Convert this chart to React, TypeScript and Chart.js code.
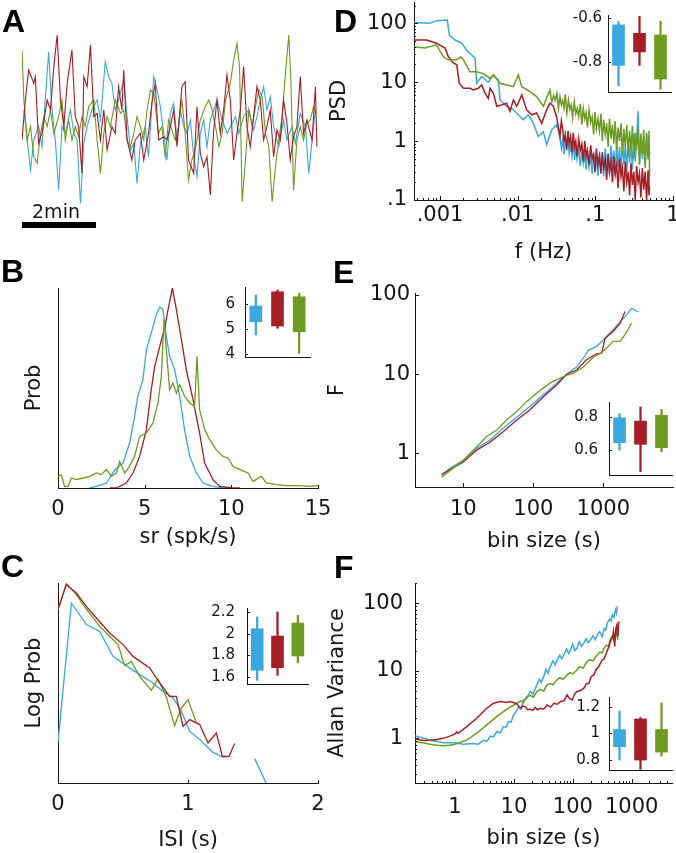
import React, { useEffect, useRef } from 'react';
import { Chart, registerables } from 'chart.js';

Chart.register(...registerables);

const BLUE = '#3aa8de';
const RED = '#a61e26';
const GREEN = '#6e9b22';
const INK = '#161616';
const FONT = '"DejaVu Sans", sans-serif';
const GROUPS = ['blue', 'red', 'green'];
const COLORS = [BLUE, RED, GREEN];

// ---------- Panel A : rate traces (time in min, rate in a.u.)
const aTimeRed = [0.00,0.09,0.18,0.32,0.36,0.45,0.54,0.68,0.77,0.86,0.95,1.04,1.13,1.22,1.35,1.44,1.53,1.62,1.67,1.76,1.85,1.94,2.03,2.12,2.21,2.30,2.43,2.52,2.61,2.70,2.75,2.84,2.97,3.06,3.20,3.29,3.42,3.51,3.60,3.69,3.83,3.92,4.01,4.10,4.19,4.32,4.41,4.50,4.64,4.73,4.82,4.91,5.00,5.09,5.18,5.27,5.36,5.45,5.54,5.63,5.72,5.81,5.90,5.99,6.08,6.17,6.26,6.35,6.44,6.53,6.62,6.71,6.80,6.89,6.98,7.07,7.16,7.25,7.34,7.43,7.52,7.61,7.70,7.84,7.93,7.97];
const aRateRed = [-0.5,0.7,1.6,1.2,1.4,-0.6,-0.3,0.7,0.4,1.7,2.65,0.7,-0.1,1.2,2.2,0.2,-0.1,-1.5,1.4,1.1,2.35,0.2,0.3,-0.5,0.4,-0.8,-0.1,-0.3,1.1,0.4,1.6,-0.5,-1.1,-0.5,-0.3,-1.1,-0.3,0.6,1.2,-0.5,-0.4,-0.5,-0.1,0.4,-0.7,1.1,1.25,-1.1,-1.5,0.5,-0.9,-1.3,-1.0,-2.15,-0.2,0.7,-0.3,0.4,1.45,0.7,-1.1,-0.3,0.4,1.7,-0.1,-0.7,0.2,1.1,0.7,-0.5,-0.1,0.4,-1.0,-0.2,-0.5,0.7,0.0,-1.1,-0.4,-0.1,1.4,-0.3,0.1,-0.5,1.1,-0.7];
const aTimeBlue = [0.05,0.23,0.32,0.45,0.54,0.72,0.81,0.90,0.99,1.08,1.17,1.31,1.40,1.49,1.58,1.67,1.76,1.89,2.03,2.12,2.25,2.34,2.43,2.52,2.61,2.75,2.84,2.93,3.02,3.11,3.20,3.33,3.42,3.56,3.65,3.74,3.83,3.92,4.01,4.10,4.19,4.28,4.37,4.46,4.55,4.64,4.73,4.82,4.91,5.00,5.09,5.18,5.27,5.41,5.54,5.68,5.77,5.86,5.99,6.13,6.26,6.35,6.44,6.53,6.62,6.71,6.80,6.94,7.07,7.16,7.30,7.39,7.52,7.66,7.75,7.84,7.93];
const aRateBlue = [0.4,-1.4,-0.5,-0.1,-0.7,2.15,0.4,-0.5,-2.0,-0.1,-0.3,0.4,-0.3,-0.5,-2.4,-0.6,-0.1,0.4,0.7,0.1,1.85,1.4,1.2,0.4,0.7,1.3,0.2,-0.8,-0.6,-1.8,-0.6,-0.1,-1.0,1.4,1.0,0.5,-0.3,-1.1,0.3,0.6,-0.5,0.4,-0.1,-0.3,0.1,-1.0,-1.6,-0.3,0.1,-0.7,0.1,0.4,0.7,0.1,-0.3,0.0,0.2,-0.3,0.2,0.4,-0.2,0.2,0.7,1.1,0.4,0.8,-0.1,-0.7,0.1,-0.5,-0.1,-0.6,0.3,-0.1,-1.5,-0.5,0.4];
const aTimeGreen = [0.00,0.05,0.14,0.23,0.32,0.41,0.50,0.59,0.68,0.77,0.86,0.99,1.08,1.17,1.26,1.35,1.44,1.53,1.62,1.71,1.80,1.94,2.03,2.12,2.21,2.30,2.39,2.52,2.66,2.75,2.84,2.93,3.02,3.11,3.20,3.29,3.38,3.47,3.56,3.69,3.78,3.87,3.96,4.05,4.14,4.23,4.32,4.41,4.50,4.59,4.68,4.82,4.95,5.05,5.14,5.23,5.32,5.41,5.50,5.63,5.72,5.81,5.88,5.95,6.04,6.13,6.22,6.31,6.40,6.49,6.58,6.67,6.76,6.85,6.94,7.03,7.12,7.21,7.27,7.34,7.43,7.52,7.61,7.70,7.79,7.88,7.95];
const aRateGreen = [2.2,0.7,-0.5,-0.1,-1.0,-1.2,-0.3,0.2,-0.1,0.4,-0.3,0.2,0.7,-0.5,0.1,-0.5,-0.1,-0.4,0.2,-0.1,0.5,0.7,-0.5,-1.5,-0.3,0.2,-0.1,0.7,0.3,0.4,-0.5,-0.7,-0.3,0.2,-0.1,-0.5,0.4,1.0,0.9,-0.3,-0.1,-1.0,0.1,-0.2,-0.5,-0.1,0.7,-0.3,-1.7,-1.1,-0.8,0.1,0.5,0.7,0.4,-0.1,-0.7,-0.3,0.7,1.2,1.9,2.4,1.7,-2.35,-1.1,0.4,-0.1,0.5,1.0,0.8,-0.3,-0.7,-2.35,-1.3,-0.5,0.2,1.5,2.65,1.2,-2.0,-0.5,-0.1,-0.5,0.0,0.1,0.5,0.3];
const scaleBarMinutes = [0, 2];
const scaleBarLevel = [-3.05, -3.05];

// ---------- Panel B : spike-rate distributions
const bRateBlue = [1.8,2.2,2.8,3.27,3.75,4.13,4.42,4.6,4.9,5.1,5.38,5.67,5.87,6.06,6.25,6.44,6.73,7.02,7.3,7.6,7.98,8.37,8.94,9.5,10];
const bProbBlue = [0,0.008,0.025,0.09,0.125,0.225,0.358,0.458,0.542,0.692,0.775,0.867,0.905,0.892,0.758,0.658,0.592,0.458,0.292,0.158,0.075,0.025,0.008,0,0];
const bRateRed = [3.0,3.37,3.94,4.33,4.71,5.1,5.38,5.58,5.87,6.15,6.35,6.6,6.83,7.12,7.4,7.79,8.17,8.46,8.94,9.33,10.1,10.5];
const bProbRed = [0,0,0.025,0.075,0.158,0.292,0.492,0.608,0.708,0.8,0.892,1.0,0.892,0.742,0.592,0.442,0.275,0.125,0.042,0.008,0,0];
const bRateGreen = [0,0.19,0.38,0.58,0.77,1.06,1.44,1.83,2.21,2.5,2.79,3.08,3.37,3.56,3.85,4.13,4.42,4.71,5.1,5.48,5.77,5.96,6.12,6.25,6.44,6.63,6.83,7.02,7.31,7.6,7.88,8.02,8.17,8.46,8.75,9.13,9.52,9.81,10.1,10.5,10.96,11.25,11.73,12.02,12.6,13.17,13.94,14.52,15];
const bProbGreen = [0.058,0.067,0.008,0.008,0.05,0.042,0.05,0.058,0.075,0.067,0.092,0.058,0.075,0.133,0.075,0.108,0.158,0.258,0.275,0.325,0.425,0.558,0.842,0.692,0.492,0.525,0.475,0.517,0.458,0.425,0.408,0.658,0.392,0.292,0.242,0.192,0.158,0.15,0.108,0.092,0.075,0.033,0.058,0.025,0.017,0.012,0.012,0.008,0.012];
const bTicks = [0, 5, 10, 15];
const bTickLabels = ['0', '5', '10', '15'];

// ---------- Panel C : ISI distributions (log prob, a.u.)
const cIsiRed = [0,0.064,0.141,0.218,0.295,0.397,0.5,0.577,0.705,0.782,0.859,0.91,0.962,1.013,1.09,1.154,1.218,1.264,1.315,1.359];
const cLogRed = [0.867,0.992,0.95,0.883,0.825,0.75,0.692,0.633,0.575,0.5,0.433,0.433,0.283,0.317,0.292,0.2,0.25,0.133,0.133,0.197];
const cIsiGreen = [0,0.064,0.141,0.218,0.321,0.41,0.462,0.513,0.564,0.628,0.718,0.769,0.833,0.897,0.949,1.0,1.064];
const cLogGreen = [0.867,0.997,0.942,0.87,0.783,0.725,0.692,0.587,0.608,0.533,0.463,0.52,0.43,0.287,0.375,0.417,0.3];
const cIsiBlue = [0,0.103,0.218,0.321,0.423,0.526,0.628,0.731,0.808,0.885,0.949,1.013,1.09,1.192,1.269,1.308,1.4,1.513,1.603];
const cLogBlue = [0.203,0.9,0.792,0.758,0.633,0.587,0.542,0.5,0.458,0.425,0.358,0.258,0.217,0.153,0.13,0.133,null,0.122,-0.003];
const cTicks = [0, 1, 2];
const cTickLabels = ['0', '1', '2'];

// ---------- Panel D : power spectral density
const dFreqBlue = [0.00046,0.00074,0.00091,0.00124,0.00132,0.00156,0.0019,0.0022,0.00256,0.00282,0.00296,0.00344,0.00419,0.00486,0.00563,0.00592,0.0072,0.0088,0.0102,0.0118,0.0137,0.0159,0.0184,0.0214,0.0236,0.0274,0.0317,
  0.035,0.0365,0.038,0.0395,0.041,0.0427,0.0445,0.046,0.048,0.05,0.052,0.054,0.056,0.058,0.061,0.064,0.067,0.07,0.073,0.076,0.079,0.083,0.087,0.091,0.095,0.099,0.103,0.108,0.113,0.118,0.123,0.128,0.134,0.14,0.146,0.152,0.159,0.166,0.173,0.18,0.188,0.196,0.205,0.214,0.223,0.233,0.243,0.254,0.265,0.276,0.288,0.3,0.313,0.326,0.34,0.355,0.37,0.386,0.403,0.42,0.438,0.457,0.477,0.49,0.5];
const dPsdBlue = [103,100,111,114,63,52,46,35,29,25.5,9.6,12.5,10,13.3,11,5.0,3.9,3.4,2.8,2.3,2.8,2.0,1.2,1.45,0.87,1.55,1.9,
  1.2,0.75,1.05,0.6,0.95,0.8,1.15,0.62,0.85,0.55,0.95,0.48,0.8,0.5,0.75,0.38,0.72,0.42,0.6,0.33,0.68,0.36,0.55,0.28,0.62,0.34,0.5,0.26,0.66,0.31,0.58,0.25,0.75,0.35,0.62,0.28,0.85,0.33,0.7,0.26,0.95,0.36,0.8,0.3,1.05,0.4,0.85,0.3,1.15,0.42,0.95,0.33,1.3,0.45,1.0,3.2,0.4,1.25,0.5,1.05,0.38,1.4,0.55,1.2,0.6];
const dFreqRed = [0.00046,0.00067,0.0009,0.00116,0.00128,0.00149,0.00164,0.00177,0.002,0.00243,0.00268,0.0031,0.00344,0.0038,0.00419,0.0044,0.00486,0.00537,0.0062,0.0072,0.00795,0.0088,0.0097,0.0113,0.013,0.0152,0.0175,0.0204,0.0236,0.026,0.0287,0.0317,
  0.035,0.0365,0.038,0.0395,0.041,0.0427,0.0445,0.046,0.048,0.05,0.052,0.054,0.056,0.058,0.061,0.064,0.067,0.07,0.073,0.076,0.079,0.083,0.087,0.091,0.095,0.099,0.103,0.108,0.113,0.118,0.123,0.128,0.134,0.14,0.146,0.152,0.159,0.166,0.173,0.18,0.188,0.196,0.205,0.214,0.223,0.233,0.243,0.254,0.265,0.276,0.288,0.3,0.313,0.326,0.34,0.355,0.37,0.386,0.403,0.42,0.438,0.457,0.477,0.49,0.5];
const dPsdRed = [52,52,46,38,27,21,20,9.6,7.9,7.9,7.4,7.9,9.0,6.5,5.3,7.9,6.5,3.9,4.1,4.4,3.2,5.0,3.9,6.1,3.4,2.8,3.0,2.0,3.4,4.4,3.9,2.6,
  1.2,2.2,1.6,1.0,1.3,0.7,1.5,0.9,1.2,0.65,1.4,0.8,1.0,0.55,1.1,0.7,0.9,0.45,1.0,0.55,0.7,0.4,0.85,0.5,0.6,0.3,0.75,0.4,0.55,0.28,0.65,0.35,0.5,0.22,0.6,0.3,0.45,0.2,0.55,0.27,0.4,0.16,0.5,0.25,0.35,0.14,0.45,0.2,0.3,0.12,0.42,0.18,0.3,0.1,0.38,0.2,0.28,0.11,0.35,0.15,0.3,0.1,0.32,0.12,0.17];
const dFreqGreen = [0.00046,0.00064,0.0009,0.0011,0.00128,0.00164,0.00185,0.002,0.00243,0.00296,0.0036,0.0044,0.00486,0.00592,0.0072,0.0088,0.0102,0.0113,0.0144,0.0175,0.0214,
  0.026,0.0275,0.029,0.0305,0.032,0.0335,0.035,0.0365,0.038,0.0395,0.041,0.043,0.045,0.047,0.049,0.051,0.0535,0.056,0.0585,0.061,0.064,0.067,0.07,0.073,0.076,0.079,0.083,0.087,0.091,0.095,0.099,0.103,0.108,0.113,0.118,0.123,0.128,0.134,0.14,0.146,0.152,0.159,0.166,0.173,0.18,0.188,0.196,0.205,0.214,0.223,0.233,0.243,0.254,0.265,0.276,0.288,0.3,0.313,0.326,0.34,0.355,0.37,0.386,0.403,0.42,0.438,0.457,0.477,0.49,0.5];
const dPsdGreen = [40,38,43,27,24,24,27,24,15,15,14,11.6,13.3,9.6,9.0,8.4,13.3,8.4,6.9,5.7,3.9,
  7.4,4.6,6.0,4.9,6.5,3.6,5.7,4.1,4.8,3.6,6.2,3.0,5.0,3.4,4.1,2.5,4.6,2.9,3.6,2.6,4.3,1.9,3.6,2.4,3.0,1.7,3.4,2.1,2.6,1.3,3.1,1.6,2.4,1.5,2.9,1.0,2.3,1.3,2.0,0.8,2.4,1.1,1.9,0.9,2.2,0.7,1.7,1.0,2.0,0.6,1.6,0.8,1.9,0.55,1.5,0.75,1.8,0.5,1.4,0.7,1.7,0.4,1.35,0.6,1.55,0.35,1.3,0.5,1.5,0.25];
const dXTicks = [0.001, 0.01, 0.1, 1];
const dXLabels = ['.001', '.01', '.1', '1'];
const dYTicks = [0.1, 1, 10, 100];
const dYLabels = ['.1', '1', '10', '100'];

// ---------- Panel E : fluctuation function F
const eBinBlue = [4.9,6.45,10,15.5,24,37,58,89,139,215,300,414,518,610,800,1060,1380,1740,2150,2540,3160];
const eFBlue = [0.53,0.65,0.82,1.16,1.47,2.07,2.85,3.9,5.5,7.7,10.0,12.3,15.9,20,22.4,28.5,36.5,46,56,68,61];
const eBinRed = [4.9,10,15.5,24,37,58,89,139,215,300,414,575,800,950,1060,1380,1740,2040];
const eFRed = [0.54,0.78,1.1,1.38,1.88,2.64,3.54,5.2,7.3,10,11.3,15.2,18.1,18.4,28.5,34.6,44,62];
const eBinGreen = [4.9,10,15.5,21.5,30,41.5,58,80,111,172,270,375,518,720,950,1170,1380,1740,2040,2540];
const eFGreen = [0.5,0.82,1.21,1.63,1.97,2.64,3.37,4.5,5.75,7.7,9.35,10.3,12.3,16.4,18.8,22.4,26,26,31.5,44.2];
const eXTicks = [10, 100, 1000];
const eXLabels = ['10', '100', '1000'];
const eYTicks = [1, 10, 100];
const eYLabels = ['1', '10', '100'];

// ---------- Panel F : Allan variance
const fBinBlue = [0.21,0.3,0.375,0.5,0.63,0.8,1.0,1.39,2.05,2.5,3.04,3.5,3.96,4.5,5.1,5.8,6.65,7.3,8.1,9.0,9.85,11,12,13.2,14.6,16.5,19,21,24.6,27,29,32,35,38,41.5,46,50,54,60,65,70,78,85,91,100,108,118,128,140,154,168,182,200,220,240,260,285,316,340,360,385,420,445,470,500,530,550,570];
const fVarBlue = [1.08,1.0,0.94,0.9,0.86,0.87,0.86,0.82,0.84,0.82,0.94,0.9,1.08,1.05,1.26,1.2,1.49,1.45,1.77,1.75,2.22,2.5,2.95,2.7,3.71,3.9,4.94,4.5,6.2,7.5,6.8,8.2,10.5,9.2,11.6,14,12.2,14.5,17,15,17.3,21,18,20.5,25,20,21.7,27,23,25.7,30,26,28.8,33,29,34.2,38,32.4,42,40,51,58,55,68,62,80,72,90];
const fBinRed = [0.21,0.3,0.375,0.5,0.63,0.8,1.0,1.07,1.12,1.58,2.34,3.46,4.5,5.85,7.6,8.5,9.85,11.2,12.8,14,15.6,17,19,21,23,25,28,32,36.5,42,47.5,55,62,70,80,88,98,108,118,135,154,170,188,205,228,250,276,295,316,340,362,385,413,440,470,490,515,535,560,575,585,600,615];
const fVarRed = [0.97,0.93,0.94,0.96,1.0,1.07,1.16,1.25,1.18,1.49,1.98,2.79,3.31,3.51,3.39,3.5,3.39,3.24,2.79,3.0,2.95,2.65,2.7,2.6,2.88,2.65,2.79,2.7,3.12,2.9,3.31,3.2,3.51,3.6,4.4,3.9,3.7,4.6,4.94,5.1,5.53,6.4,6.56,8.2,8.7,10.5,11.6,13,14.5,15,17.3,20,23,28,30.6,38,23,42,48,35,32,50,54];
const fBinGreen = [0.21,0.3,0.375,0.5,0.63,0.8,1.0,1.58,2.34,3.46,5.1,7.6,11.2,13,14.5,16.6,19,21.5,24.6,28,32,36.5,41,46,54,60,68,80,90,100,118,130,150,175,195,220,260,290,315,340,370,400,440,470,500,535,560,585];
const fVarGreen = [0.89,0.85,0.82,0.79,0.78,0.79,0.82,0.94,1.19,1.58,2.1,2.7,3.31,3.6,3.4,4.16,4.3,4.1,4.94,5.3,5.0,6.2,6.5,6.2,7.35,7.9,7.5,8.7,9.4,9.0,10.4,11.5,11,13.8,14.5,14,17.3,19,18.5,21.7,24,23,30.6,33,28,38.5,33,28.8];
const fXTicks = [1, 10, 100, 1000];
const fXLabels = ['1', '10', '100', '1000'];
const fYTicks = [1, 10, 100];
const fYLabels = ['1', '10', '100'];

// ---------- Insets : box plots (box = quartiles, whiskers = range)
const bInsetBoxLo = [5.29, 5.12, 4.89];
const bInsetBoxHi = [5.92, 6.49, 6.29];
const bInsetWhiskLo = [4.76, 5.03, 4.03];
const bInsetWhiskHi = [6.36, 6.56, 6.43];
const bInsetTicks = [4, 5, 6];
const bInsetLabels = ['4', '5', '6'];

const cInsetBoxLo = [1.662, 1.686, 1.794];
const cInsetBoxHi = [2.046, 1.978, 2.098];
const cInsetWhiskLo = [1.569, 1.615, 1.732];
const cInsetWhiskHi = [2.154, 2.2, 2.169];
const cInsetTicks = [1.6, 1.8, 2, 2.2];
const cInsetLabels = ['1.6', '1.8', '2', '2.2'];

const dInsetBoxLo = [-0.815, -0.754, -0.877];
const dInsetBoxHi = [-0.631, -0.669, -0.677];
const dInsetWhiskLo = [-0.908, -0.815, -0.923];
const dInsetWhiskHi = [-0.615, -0.592, -0.615];
const dInsetTicks = [-0.8, -0.6];
const dInsetLabels = ['-0.8', '-0.6'];

const eInsetBoxLo = [0.645, 0.635, 0.615];
const eInsetBoxHi = [0.795, 0.775, 0.81];
const eInsetWhiskLo = [0.6, 0.47, 0.59];
const eInsetWhiskHi = [0.82, 0.86, 0.845];
const eInsetTicks = [0.6, 0.8];
const eInsetLabels = ['0.6', '0.8'];

const fInsetBoxLo = [0.9, 0.8, 0.86];
const fInsetBoxHi = [1.03, 1.11, 1.03];
const fInsetWhiskLo = [0.8, 0.73, 0.83];
const fInsetWhiskHi = [1.17, 1.12, 1.23];
const fInsetTicks = [0.8, 1, 1.2];
const fInsetLabels = ['0.8', '1', '1.2'];

// ---------- helpers
const pts = (xs: number[], ys: (number | null)[]) => xs.map((x, i) => ({ x, y: ys[i] === undefined ? null : ys[i] }));

function logMinors(lo: number, hi: number) {
  const out: number[] = [];
  for (let e = Math.floor(Math.log10(lo)); e <= Math.ceil(Math.log10(hi)); e++) {
    for (let k = 2; k <= 9; k++) {
      const v = k * Math.pow(10, e);
      if (v >= lo && v <= hi) out.push(v);
    }
  }
  return out;
}

const ln = (xs: number[], ys: (number | null)[], color: string, width: number, order: number) => ({
  data: pts(xs, ys),
  borderColor: color,
  backgroundColor: color,
  borderWidth: width,
  pointRadius: 0,
  tension: 0,
  fill: false,
  order,
  spanGaps: false,
});

type Geo = { L: number; T: number; W: number; H: number; x0: number; y0: number; x1: number; y1: number };
type Axis = {
  type: string; min?: number; max?: number; values?: number[]; labels?: string[];
  pad?: number; title?: string; titlePad?: number;
};
type TickSpec = { x?: number[]; xm?: number[]; y?: number[]; ym?: number[]; len?: number; mlen?: number };

function makeTicks(spec: TickSpec) {
  return {
    id: 'inwardTicks',
    afterDatasetsDraw(chart: any) {
      const { ctx, chartArea: a, scales } = chart;
      ctx.save();
      ctx.strokeStyle = INK;
      ctx.lineWidth = 1;
      ctx.beginPath();
      const put = (axis: 'x' | 'y', vals: number[] | undefined, len: number) => {
        if (!vals) return;
        const s = scales[axis];
        for (const v of vals) {
          if (v < s.min || v > s.max) continue;
          const p = Math.round(s.getPixelForValue(v)) + 0.5;
          if (axis === 'x') { ctx.moveTo(p, a.bottom); ctx.lineTo(p, a.bottom - len); }
          else { ctx.moveTo(a.left, p); ctx.lineTo(a.left + len, p); }
        }
      };
      const L = spec.len ?? 4;
      const M = spec.mlen ?? 2;
      put('x', spec.x, L); put('x', spec.xm, M);
      put('y', spec.y, L); put('y', spec.ym, M);
      ctx.stroke();
      ctx.restore();
    },
  };
}

function scale(axis: 'x' | 'y', s: Axis, thick: number, fontSize: number) {
  return {
    type: s.type,
    min: s.min,
    max: s.max,
    bounds: 'data',
    offset: s.type === 'category',
    grid: { display: false, drawTicks: false },
    border: { display: true, color: INK, width: 1 },
    ticks: {
      display: !!s.labels,
      autoSkip: false,
      maxRotation: 0,
      minRotation: 0,
      padding: s.pad ?? 0,
      color: INK,
      font: { family: FONT, size: fontSize, lineHeight: 1 },
      callback: (_v: any, i: number) => (s.labels ? (s.labels[i] ?? '') : ''),
    },
    afterBuildTicks: (sc: any) => {
      if (s.values) sc.ticks = s.values.map((v) => ({ value: v }));
    },
    afterFit: (sc: any) => {
      if (axis === 'x') sc.height = thick; else sc.width = thick;
      sc.paddingLeft = 0; sc.paddingRight = 0; sc.paddingTop = 0; sc.paddingBottom = 0;
    },
    title: s.title
      ? {
          display: true,
          text: s.title,
          color: INK,
          font: { family: FONT, size: 21, lineHeight: 1 },
          padding: axis === 'x' ? { top: 0, bottom: s.titlePad ?? 0 } : { top: s.titlePad ?? 0, bottom: 0 },
        }
      : { display: false },
  };
}

const baseOptions = {
  animation: false,
  responsive: false,
  maintainAspectRatio: false,
  devicePixelRatio: 1,
  events: [],
  plugins: { legend: { display: false }, tooltip: { enabled: false }, title: { display: false } },
};

function lineConfig(g: Geo, datasets: any[], xs: Axis, ys: Axis, ticks: TickSpec) {
  return {
    type: 'line',
    data: { datasets },
    options: {
      ...baseOptions,
      layout: { padding: { left: 0, bottom: 0, top: g.y0 - g.T, right: g.L + g.W - g.x1 } },
      scales: {
        x: scale('x', xs, g.T + g.H - g.y1, 21),
        y: scale('y', ys, g.x0 - g.L, 21),
      },
    },
    plugins: [makeTicks(ticks)],
  };
}

function insetConfig(g: Geo, min: number, max: number, values: number[], labels: string[], pad: number,
  boxLo: number[], boxHi: number[], whLo: number[], whHi: number[]) {
  return {
    type: 'bar',
    data: {
      labels: GROUPS,
      datasets: [
        { data: boxLo.map((v, i) => [v, boxHi[i]]), backgroundColor: COLORS, barThickness: 12, grouped: false, order: 0, borderWidth: 0 },
        { data: whLo.map((v, i) => [v, whHi[i]]), backgroundColor: COLORS, barThickness: 1.6, grouped: false, order: 1, borderWidth: 0 },
      ],
    },
    options: {
      ...baseOptions,
      layout: { padding: { left: 0, bottom: 0, top: g.y0 - g.T, right: g.L + g.W - g.x1 } },
      scales: {
        x: scale('x', { type: 'category' }, g.T + g.H - g.y1, 15),
        y: scale('y', { type: 'linear', min, max, values, labels, pad }, g.x0 - g.L, 15),
      },
    },
    plugins: [makeTicks({ y: values, len: 3 })],
  };
}

function panelA() {
  const g: Geo = { L: 0, T: 0, W: 330, H: 250, x0: 22, y0: 20, x1: 318, y1: 240 };
  return {
    type: 'line',
    data: {
      datasets: [
        ln(aTimeRed, aRateRed, RED, 1.1, 0),
        ln(aTimeGreen, aRateGreen, GREEN, 1.1, 1),
        ln(aTimeBlue, aRateBlue, BLUE, 1.1, 2),
        { ...ln(scaleBarMinutes, scaleBarLevel, '#000', 6, 3), borderCapStyle: 'butt' },
      ],
    },
    options: {
      ...baseOptions,
      layout: { padding: { left: g.x0 - g.L, top: g.y0 - g.T, right: g.L + g.W - g.x1, bottom: g.T + g.H - g.y1 } },
      scales: {
        x: { type: 'linear', display: false, min: 0, max: 8.0 },
        y: { type: 'linear', display: false, min: -3.5, max: 3.1 },
      },
    },
  };
}

function panelB() {
  const g: Geo = { L: 0, T: 250, W: 345, H: 310, x0: 58, y0: 288, x1: 318, y1: 488 };
  return lineConfig(g, [
    ln(bRateGreen, bProbGreen, GREEN, 1.3, 0),
    ln(bRateRed, bProbRed, RED, 1.3, 1),
    ln(bRateBlue, bProbBlue, BLUE, 1.3, 2),
  ],
  { type: 'linear', min: 0, max: 15, values: bTicks, labels: bTickLabels, pad: 11.5, title: 'sr (spk/s)', titlePad: 11.8 },
  { type: 'linear', min: 0, max: 1, title: 'Prob', titlePad: 24 },
  { x: bTicks, len: 3 });
}

function panelC() {
  const g: Geo = { L: 0, T: 560, W: 345, H: 293, x0: 58, y0: 583, x1: 318, y1: 783 };
  return lineConfig(g, [
    ln(cIsiRed, cLogRed, RED, 1.3, 0),
    ln(cIsiGreen, cLogGreen, GREEN, 1.3, 1),
    ln(cIsiBlue, cLogBlue, BLUE, 1.3, 2),
  ],
  { type: 'linear', min: 0, max: 2, values: cTicks, labels: cTickLabels, pad: 11.5, title: 'ISI (s)', titlePad: 1.8 },
  { type: 'linear', min: 0, max: 1, title: 'Log Prob', titlePad: 24 },
  { x: cTicks, len: 3 });
}

function panelD() {
  const g: Geo = { L: 320, T: 0, W: 380, H: 280, x0: 414, y0: 2, x1: 673, y1: 200 };
  return lineConfig(g, [
    ln(dFreqGreen, dPsdGreen, GREEN, 1.5, 0),
    ln(dFreqRed, dPsdRed, RED, 1.5, 1),
    ln(dFreqBlue, dPsdBlue, BLUE, 1.5, 2),
  ],
  { type: 'logarithmic', min: 0.000462, max: 1, values: dXTicks, labels: dXLabels, pad: 5.5, title: 'f (Hz)', titlePad: 16.8 },
  { type: 'logarithmic', min: 0.1, max: 230, values: dYTicks, labels: dYLabels, pad: 7, title: 'PSD', titlePad: 8.9 },
  { x: dXTicks, xm: logMinors(0.000462, 1), y: dYTicks, ym: logMinors(0.1, 230) });
}

function panelE() {
  const g: Geo = { L: 320, T: 280, W: 380, H: 280, x0: 415, y0: 293, x1: 673, y1: 487 };
  return lineConfig(g, [
    ln(eBinGreen, eFGreen, GREEN, 1.3, 0),
    ln(eBinRed, eFRed, RED, 1.3, 1),
    ln(eBinBlue, eFBlue, BLUE, 1.3, 2),
  ],
  { type: 'logarithmic', min: 2.04, max: 9900, values: eXTicks, labels: eXLabels, pad: 12.5, title: 'bin size (s)', titlePad: 7.8 },
  { type: 'logarithmic', min: 0.376, max: 106, values: eYTicks, labels: eYLabels, pad: 5, title: 'F', titlePad: 7.2 },
  { x: eXTicks, y: eYTicks });
}

function panelF() {
  const g: Geo = { L: 320, T: 560, W: 380, H: 293, x0: 415, y0: 583, x1: 672, y1: 783 };
  return lineConfig(g, [
    ln(fBinGreen, fVarGreen, GREEN, 1.5, 1),
    ln(fBinRed, fVarRed, RED, 1.5, 0),
    ln(fBinBlue, fVarBlue, BLUE, 1.5, 2),
  ],
  { type: 'logarithmic', min: 0.2094, max: 4830, values: fXTicks, labels: fXLabels, pad: 14, title: 'bin size (s)', titlePad: 3.5 },
  { type: 'logarithmic', min: 0.218, max: 200, values: fYTicks, labels: fYLabels, pad: 12, title: 'Allan Variance', titlePad: 7.2 },
  { x: fXTicks, xm: logMinors(0.2094, 4830), y: fYTicks, ym: logMinors(0.218, 200) });
}

const insetB = () => insetConfig({ L: 200, T: 280, W: 115, H: 85, x0: 245, y0: 287, x1: 310, y1: 357 },
  3.88, 6.68, bInsetTicks, bInsetLabels, 10, bInsetBoxLo, bInsetBoxHi, bInsetWhiskLo, bInsetWhiskHi);
const insetC = () => insetConfig({ L: 200, T: 600, W: 115, H: 92, x0: 247, y0: 608, x1: 308, y1: 684 },
  1.535, 2.237, cInsetTicks, cInsetLabels, 12, cInsetBoxLo, cInsetBoxHi, cInsetWhiskLo, cInsetWhiskHi);
const insetD = () => insetConfig({ L: 556, T: 5, W: 120, H: 95, x0: 608, y0: 15, x1: 671, y1: 92 },
  -0.936, -0.586, dInsetTicks, dInsetLabels, 6, dInsetBoxLo, dInsetBoxHi, dInsetWhiskLo, dInsetWhiskHi);
const insetE = () => insetConfig({ L: 556, T: 395, W: 120, H: 88, x0: 609, y0: 402, x1: 672, y1: 475 },
  0.45, 0.89, eInsetTicks, eInsetLabels, 11, eInsetBoxLo, eInsetBoxHi, eInsetWhiskLo, eInsetWhiskHi);
const insetF = () => insetConfig({ L: 556, T: 690, W: 120, H: 88, x0: 609, y0: 697, x1: 672, y1: 770 },
  0.725, 1.275, fInsetTicks, fInsetLabels, 9, fInsetBoxLo, fInsetBoxHi, fInsetWhiskLo, fInsetWhiskHi);

const CHARTS = [
  { id: 'A', L: 0, T: 0, W: 330, H: 250, make: panelA },
  { id: 'B', L: 0, T: 250, W: 345, H: 310, make: panelB },
  { id: 'C', L: 0, T: 560, W: 345, H: 293, make: panelC },
  { id: 'D', L: 320, T: 0, W: 380, H: 280, make: panelD },
  { id: 'E', L: 320, T: 280, W: 380, H: 280, make: panelE },
  { id: 'F', L: 320, T: 560, W: 380, H: 293, make: panelF },
  { id: 'iB', L: 200, T: 280, W: 115, H: 85, make: insetB },
  { id: 'iC', L: 200, T: 600, W: 115, H: 92, make: insetC },
  { id: 'iD', L: 556, T: 5, W: 120, H: 95, make: insetD },
  { id: 'iE', L: 556, T: 395, W: 120, H: 88, make: insetE },
  { id: 'iF', L: 556, T: 690, W: 120, H: 88, make: insetF },
];

const LETTERS = [
  { t: 'A', left: 2, top: 5 },
  { t: 'B', left: 1, top: 255 },
  { t: 'C', left: 1, top: 550 },
  { t: 'D', left: 334, top: 5 },
  { t: 'E', left: 333, top: 256 },
  { t: 'F', left: 334, top: 551 },
];

function ChartBox({ L, T, W, H, make }: { L: number; T: number; W: number; H: number; make: () => any }) {
  const ref = useRef<HTMLCanvasElement>(null);
  useEffect(() => {
    const chart = new Chart(ref.current as HTMLCanvasElement, make());
    return () => chart.destroy();
  }, []);
  return (
    <canvas
      ref={ref}
      width={W}
      height={H}
      style={{ position: 'absolute', left: L, top: T, width: W, height: H }}
    />
  );
}

export default function App() {
  return (
    <div style={{ position: 'fixed', left: 0, top: 0, width: 676, height: 853, overflow: 'hidden', background: '#fff' }}>
      {CHARTS.map((c) => (
        <ChartBox key={c.id} L={c.L} T={c.T} W={c.W} H={c.H} make={c.make} />
      ))}
      {LETTERS.map((l) => (
        <div
          key={l.t}
          style={{
            position: 'absolute', left: l.left, top: l.top, fontFamily: '"Liberation Sans", Arial, sans-serif',
            fontWeight: 700, fontSize: 32, lineHeight: '32px', color: '#000',
          }}
        >
          {l.t}
        </div>
      ))}
      <div
        style={{
          position: 'absolute', left: 16, top: 202, width: 80, textAlign: 'center', fontFamily: FONT,
          fontSize: 19, lineHeight: '19px', color: INK,
        }}
      >
        2min
      </div>
    </div>
  );
}
